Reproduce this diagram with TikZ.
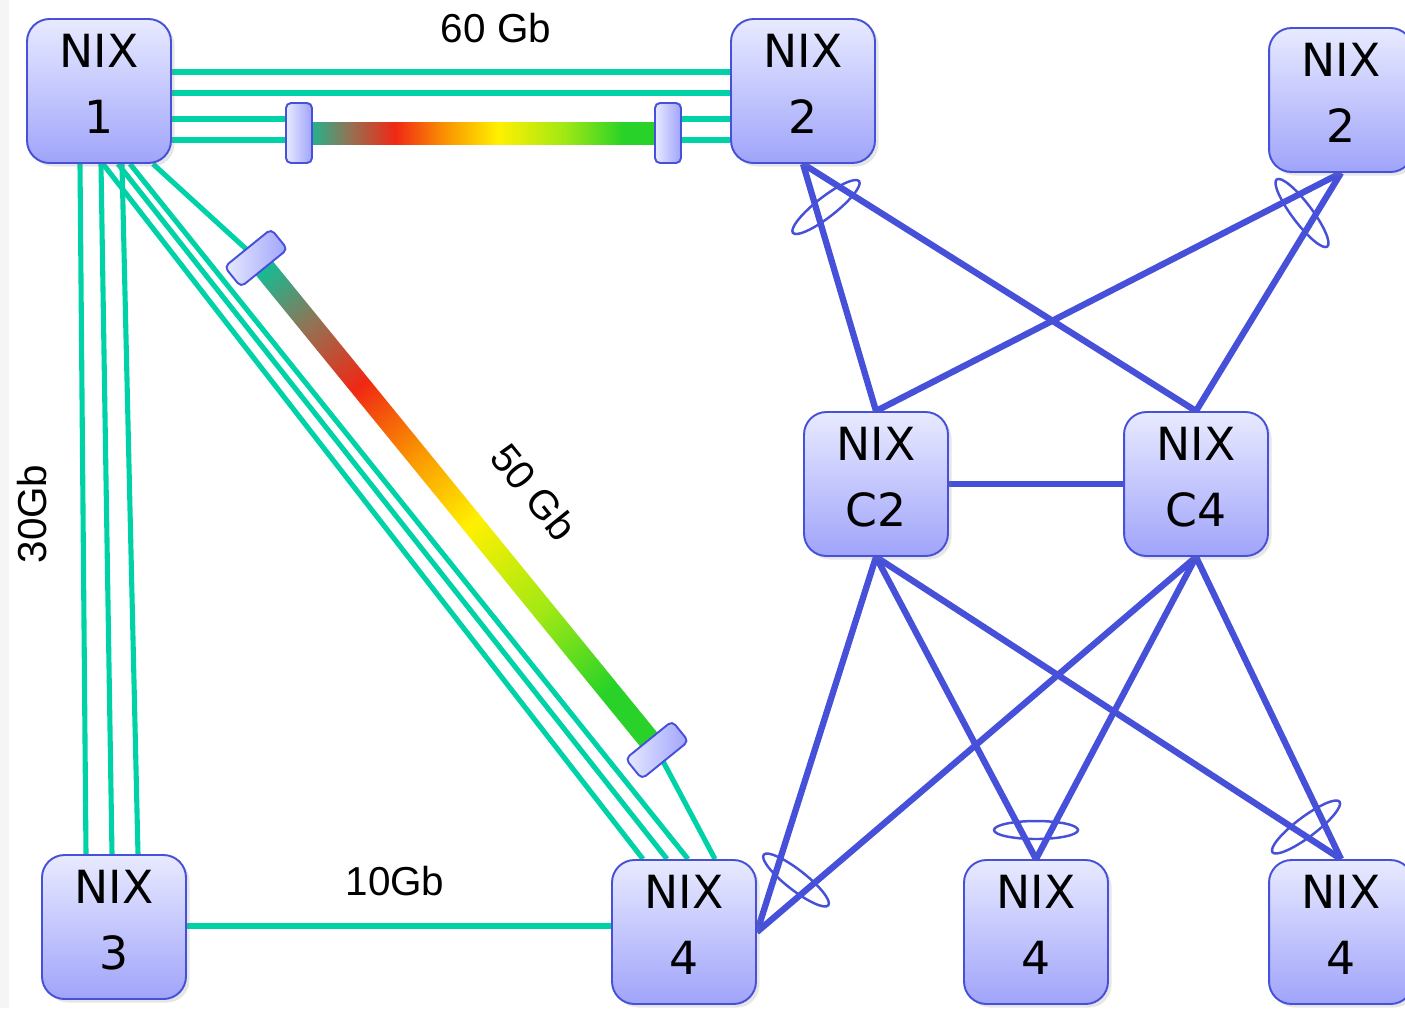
\documentclass[tikz,border=0pt]{standalone}
\usepackage{fontspec}
\setmainfont{Liberation Sans}
\newfontfamily\nixfont{DejaVu Sans}
\usetikzlibrary{shadows}
\usetikzlibrary{backgrounds}

\definecolor{fibregreen}{RGB}{0,210,168}
\definecolor{nixblue}{RGB}{70,80,216}
\definecolor{boxtop}{RGB}{232,234,255}
\definecolor{boxbot}{RGB}{160,164,250}
\definecolor{barteal}{RGB}{0,200,160}
\definecolor{barbrown}{RGB}{150,112,82}
\definecolor{barred}{RGB}{240,40,20}
\definecolor{barorange}{RGB}{250,150,0}
\definecolor{baryellow}{RGB}{255,240,0}
\definecolor{barlime}{RGB}{160,232,20}
\definecolor{bargreen}{RGB}{40,210,40}

\pgfdeclarehorizontalshading{linkbar}{100bp}{color(0bp)=(barteal); color(25bp)=(barteal);
  color(32bp)=(barbrown); color(38bp)=(barred); color(45bp)=(barorange);
  color(52bp)=(baryellow); color(61bp)=(barlime); color(69bp)=(bargreen); color(100bp)=(bargreen)}

\tikzset{
  nix/.style={draw=nixblue, line width=1.1pt, rounded corners=0.45cm,
    top color=boxtop, bottom color=boxbot,
    minimum width=2.88cm, minimum height=2.88cm, inner sep=0pt,
    align=center, font=\nixfont\fontsize{26}{37.4}\selectfont,
    execute at end node=\rule[-0.3cm]{0pt}{0pt},
    drop shadow={opacity=0.2, shadow xshift=2pt, shadow yshift=-2pt}},
  plug/.style={draw=nixblue, line width=1.1pt, rounded corners=0.1cm,
    left color=boxtop, right color=boxbot,
    minimum width=0.52cm, minimum height=1.2cm, inner sep=0pt},
  fibre/.style={draw=fibregreen, line width=2.9pt},
  trunk/.style={draw=nixblue, line width=3.6pt},
  lag/.style={draw=nixblue, line width=1.4pt},
  gb/.style={font=\fontsize{23}{27}\selectfont, inner sep=0pt},
}

\begin{document}
\begin{tikzpicture}[x=0.02cm, y=-0.02cm]

\useasboundingbox (0,0) rectangle (1405,1008);
\fill[gray!8] (0,0) rectangle (9,1008);

% nodes
\node[nix] (nix1) at (99,91) {NIX\\1};
\node[nix] (nix2) at (803,91) {NIX\\2};
\node[nix] (nix2b) at (1341,100) {NIX\\2};
\node[nix] (nixc2) at (876,484) {NIX\\C2};
\node[nix] (nixc4) at (1196,484) {NIX\\C4};
\node[nix] (nix3) at (114,927) {NIX\\3};
\node[nix] (nix4) at (684,932) {NIX\\4};
\node[nix] (nix4b) at (1036,932) {NIX\\4};
\node[nix] (nix4c) at (1341,932) {NIX\\4};

% plugs at the ends of the wavelength bars
\node[plug] (conA) at (299,133) {};
\node[plug] (conB) at (668,133) {};
\node[plug, rotate=-51] (conC) at (256,258) {};
\node[plug, rotate=-51] (conD) at (657,750) {};

% labels
\node[gb] (g60) at (496,28) {60 Gb};
\node[gb, rotate=90] (g30) at (32,514) {30Gb};
\node[gb, rotate=-51] (g50) at (534,492) {50 Gb};
\node[gb] (g10) at (395,881) {10Gb};

\begin{scope}[on background layer]
% fibres 1 -- 2
\draw[fibre] (nix1.east |- 0,72) -- (nix2.west |- 0,72);
\draw[fibre] (nix1.east |- 0,93) -- (nix2.west |- 0,93);
\draw[fibre] (nix1.east |- 0,119) -- (conA.center |- 0,119);
\draw[fibre] (nix1.east |- 0,140) -- (conA.center |- 0,140);
\draw[fibre] (conB.center |- 0,119) -- (nix2.west |- 0,119);
\draw[fibre] (conB.center |- 0,140) -- (nix2.west |- 0,140);
% fibres 1 -- 3
\draw[fibre] (nix1.south -| 80,0) -- (nix3.north -| 86,0);
\draw[fibre] (nix1.south -| 101,0) -- (nix3.north -| 112,0);
\draw[fibre] (nix1.south -| 122,0) -- (nix3.north -| 138,0);
% fibres 1 -- 4
\draw[fibre] (nix1.south -| 103,0) -- (nix4.north -| 643,0);
\draw[fibre] (nix1.south -| 118,0) -- (nix4.north -| 667,0);
\draw[fibre] (nix1.south -| 130,0) -- (nix4.north -| 688,0);
\draw[fibre] (nix1.south -| 153,0) -- (conC.center);
\draw[fibre] (conD.center) -- (nix4.north -| 715,0);
% fibre 3 -- 4
\draw[fibre] (nix3.east |- 0,926) -- (nix4.west |- 0,926);

% wavelength bars
\shade[shading=linkbar] ([shift={(0,-11)}]conA.center) rectangle ([shift={(0,11)}]conB.center);
\begin{scope}[transform canvas={shift={(conC.center)}, rotate=-50.8}]
  \shade[shading=linkbar] (0,-11) rectangle (634,11);
\end{scope}

% trunks
\draw[trunk] (nix2.south) -- (nixc2.north);
\draw[trunk] (nix2.south) -- (nixc4.north);
\draw[trunk] (nix2b.south) -- (nixc2.north);
\draw[trunk] (nix2b.south) -- (nixc4.north);
\draw[trunk] (nixc2.east) -- (nixc4.west);
\draw[trunk] (nixc2.south) -- (nix4.east);
\draw[trunk] (nixc4.south) -- (nix4.east);
\draw[trunk] (nixc2.south) -- (nix4b.north);
\draw[trunk] (nixc4.south) -- (nix4b.north);
\draw[trunk] (nixc2.south) -- (nix4c.north);
\draw[trunk] (nixc4.south) -- (nix4c.north);
\end{scope}

% link aggregation rings
\draw[lag, rotate around={38:(826,207)}] (826,207) ellipse (42 and 10);
\draw[lag, rotate around={-53:(1302,213)}] (1302,213) ellipse (42 and 10);
\draw[lag, rotate around={-38:(796,880)}] (796,880) ellipse (41 and 10);
\draw[lag] (1036,830) ellipse (42 and 9);
\draw[lag, rotate around={37:(1306,827)}] (1306,827) ellipse (42 and 10);

\end{tikzpicture}
\end{document}
